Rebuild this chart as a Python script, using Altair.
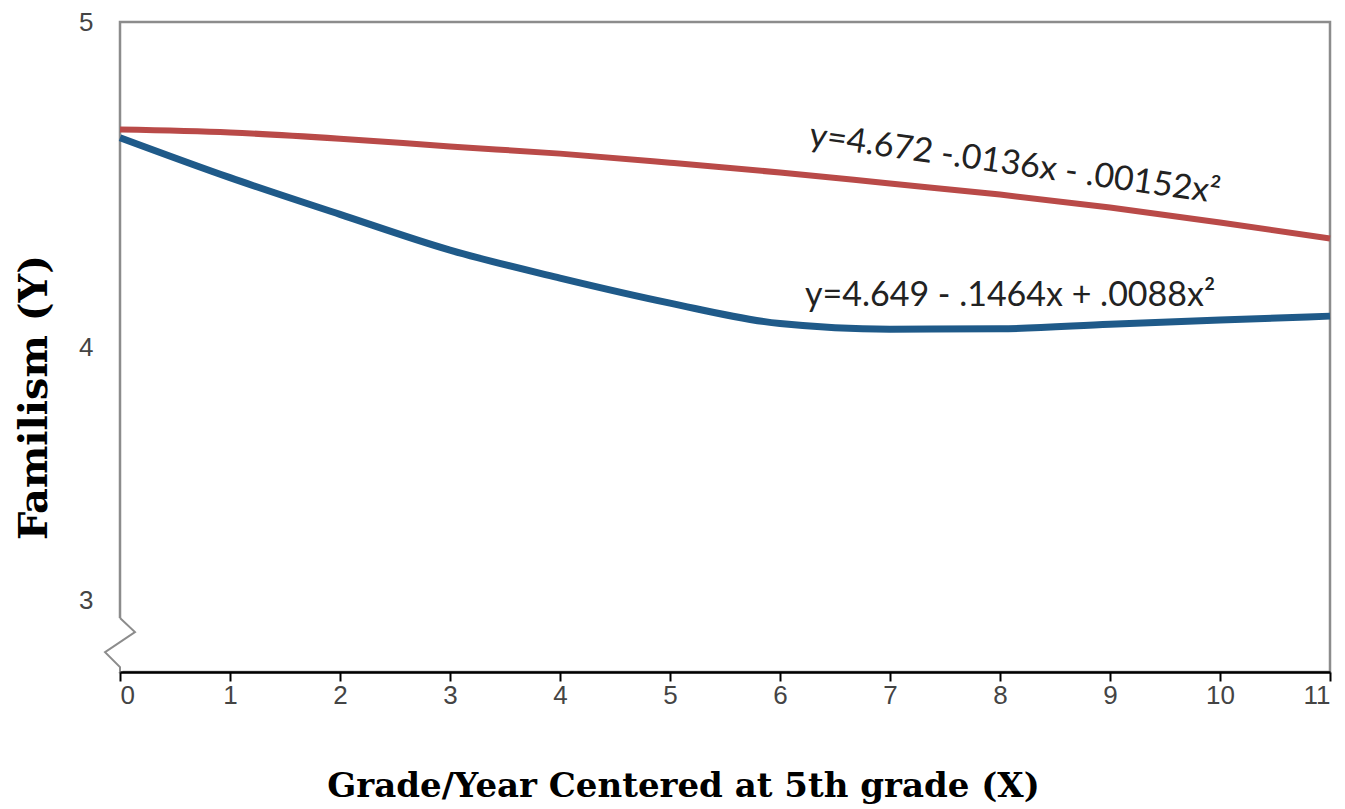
import altair as alt
import pandas as pd

# ---- data ----
grade = list(range(12))
boys_red = [4.669, 4.660, 4.641, 4.617, 4.595, 4.567, 4.537, 4.503, 4.469, 4.429, 4.383, 4.334]
girls_blue = [4.644, 4.521, 4.408, 4.298, 4.212, 4.135, 4.072, 4.055, 4.056, 4.070, 4.083, 4.095]

eq_text = ["y=4.672 -.0136x - .00152x²", "y=4.649 - .1464x + .0088x²"]
eq_x = [6.27, 6.227]
eq_y = [4.650, 4.158]

y_tick_values = [3.22, 4, 5]
x_tick_values = list(range(12))

# axis-break zigzag (in data units)
brk_x = [0, 0.136, -0.136, 0, 0]
brk_y = [3.166, 3.123, 3.061, 3.015, 3.0]

RED = "#B94A48"
BLUE = "#1F5A89"
GRAY = "#8c8c8c"

df_red = pd.DataFrame({"x": grade, "y": boys_red})
df_blue = pd.DataFrame({"x": grade, "y": girls_blue})
df_brk = pd.DataFrame({"x": brk_x, "y": brk_y, "o": list(range(len(brk_x)))})
df_cover = pd.DataFrame({"x": [0], "y": [brk_y[-1]], "y2": [brk_y[0]]})

xs = alt.Scale(domain=[0, 11], nice=False, zero=False)
ys = alt.Scale(domain=[3, 5], nice=False, zero=False)

base_x = alt.X(
    "x:Q", scale=xs,
    axis=alt.Axis(
        values=x_tick_values, format="d", grid=False,
        domainColor="black", domainWidth=2.5,
        tickColor="black", tickWidth=2, tickSize=9,
        labelFont="Liberation Sans", labelFontSize=26, labelColor="#444444",
        labelPadding=1,
        title="Grade/Year Centered at 5th grade (X)",
        titleFont="DejaVu Serif", titleFontWeight="bold", titleFontSize=34,
        titleColor="black", titleX=563, titleY=124, titleBaseline="alphabetic",
        titleAnchor="start", titleAlign="center",
        zindex=1,
    ),
)
base_y = alt.Y(
    "y:Q", scale=ys,
    axis=alt.Axis(
        values=y_tick_values, grid=False, domain=False, ticks=False,
        labelExpr="datum.value < 3.5 ? '3' : format(datum.value, 'd')",
        labelFont="Liberation Sans", labelFontSize=26, labelColor="#444444",
        labelPadding=27,
        title="Familism (Y)",
        titleFont="DejaVu Serif", titleFontWeight="bold", titleFontSize=40,
        titleColor="black", titleAngle=270, titleX=-86, titleY=375,
        titleAlign="center", titleBaseline="middle",
    ),
)

cover = alt.Chart(df_cover).mark_rule(color="white", strokeWidth=5).encode(
    x=alt.X("x:Q", scale=xs), y=alt.Y("y:Q", scale=ys), y2="y2:Q"
)
brk = alt.Chart(df_brk).mark_line(color=GRAY, strokeWidth=2, clip=False).encode(
    x=alt.X("x:Q", scale=xs), y=alt.Y("y:Q", scale=ys), order="o:Q"
)
red_line = alt.Chart(df_red).mark_line(color=RED, strokeWidth=6, interpolate="monotone").encode(
    x=base_x, y=base_y
)
blue_line = alt.Chart(df_blue).mark_line(color=BLUE, strokeWidth=7, interpolate="monotone").encode(
    x=alt.X("x:Q", scale=xs), y=alt.Y("y:Q", scale=ys)
)
df_eq = pd.DataFrame({"x": eq_x, "y": eq_y, "t": eq_text})
eq_red = alt.Chart(df_eq.iloc[[0]]).mark_text(
    font="Lato", fontSize=34, color="#222222", align="left", baseline="middle", angle=8
).encode(x=alt.X("x:Q", scale=xs), y=alt.Y("y:Q", scale=ys), text="t:N")
eq_blue = alt.Chart(df_eq.iloc[[1]]).mark_text(
    font="Lato", fontSize=34, color="#222222", align="left", baseline="middle"
).encode(x=alt.X("x:Q", scale=xs), y=alt.Y("y:Q", scale=ys), text="t:N")

chart = alt.layer(red_line, cover, brk, blue_line, eq_red, eq_blue).properties(
    width=1210, height=650,
    autosize=alt.AutoSizeParams(type="none"),
    padding={"left": 112, "top": 14, "right": 7, "bottom": 137},
    background="white",
).configure_view(stroke=GRAY, strokeWidth=2.5)

chart.save("out.html", embed_options={"renderer": "svg", "actions": False})
